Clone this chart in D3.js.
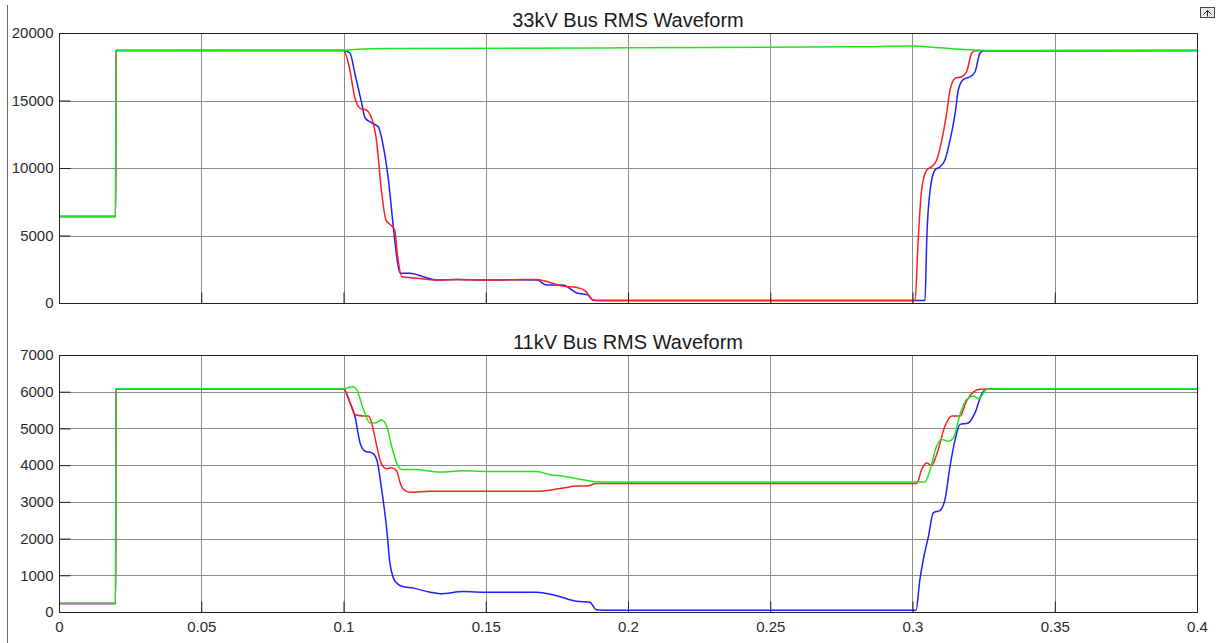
<!DOCTYPE html>
<html>
<head>
<meta charset="utf-8">
<script src="https://cdn.jsdelivr.net/npm/d3@7"></script>
<style>
  body { margin: 0; background: #fff; }
  svg { display: block; font-family: "Liberation Sans", Arial, sans-serif; }
</style>
</head>
<body>
<svg id="chart" width="1222" height="643"></svg>
<script>
// time axis ticks (s)
const xTicks = [0, 0.05, 0.1, 0.15, 0.2, 0.25, 0.3, 0.35, 0.4];
const topYTicks = [0, 5000, 10000, 15000, 20000];
const botYTicks = [0, 1000, 2000, 3000, 4000, 5000, 6000, 7000];

// 33kV bus RMS, [t, V]
const top_blue = [[0,6400],[0.0199,6400],[0.02,18700],[0.1,18700],[0.1023,18500],[0.104,17000],[0.1064,14800],[0.1076,13700],
  [0.1099,13350],[0.1122,13050],[0.114,11600],[0.1158,9100],[0.1175,5650],[0.1187,3430],[0.1199,2200],[0.1234,2200],
  [0.128,1950],[0.1328,1700],[0.14,1750],[0.15,1700],[0.16,1720],[0.168,1700],[0.1714,1330],[0.177,1330],[0.182,740],
  [0.186,600],[0.1877,200],[0.19,180],[0.3044,180],[0.305,4670],[0.3062,8370],[0.3079,9850],[0.3097,10100],[0.3114,10600],
  [0.3132,12070],[0.315,14070],[0.3161,15780],[0.3179,16570],[0.3202,16760],[0.322,17130],[0.3237,18500],[0.3251,18690],[0.4,18700]];
const top_red = [[0,6400],[0.0199,6400],[0.02,18700],[0.1,18700],[0.102,17500],[0.104,15200],[0.106,14400],[0.108,14300],
  [0.1095,13900],[0.1115,12200],[0.1135,8000],[0.115,6100],[0.1165,5800],[0.118,5400],[0.119,3500],[0.1205,1950],
  [0.125,1850],[0.133,1700],[0.14,1750],[0.15,1700],[0.16,1720],[0.168,1750],[0.172,1550],[0.177,1250],[0.182,1150],
  [0.185,900],[0.1875,250],[0.19,180],[0.3009,180],[0.302,4670],[0.3032,8370],[0.305,9850],[0.3067,10100],[0.3085,10600],
  [0.3103,12070],[0.312,14070],[0.3132,15780],[0.315,16640],[0.3173,16760],[0.319,17130],[0.3208,18500],[0.322,18690],[0.4,18700]];
const top_green = [[0,6400],[0.0199,6400],[0.02,18700],[0.1,18730],[0.105,18800],[0.115,18850],[0.2,18900],[0.28,18980],
  [0.3,19040],[0.31,18900],[0.315,18820],[0.322,18740],[0.33,18700],[0.4,18700]];

// 11kV bus RMS, [t, V]
const bot_blue = [[0,230],[0.0199,230],[0.02,6080],[0.1,6080],[0.1023,5700],[0.104,5340],[0.1058,4610],[0.1076,4380],
  [0.1099,4340],[0.1117,4150],[0.1134,3340],[0.1152,2250],[0.1163,1340],[0.1175,930],[0.1187,790],[0.1205,700],
  [0.1246,650],[0.1304,540],[0.1339,500],[0.1421,555],[0.1503,540],[0.1679,540],[0.1749,445],[0.182,290],[0.1866,265],
  [0.1889,60],[0.1937,45],[0.3012,45],[0.3026,880],[0.3038,1430],[0.3056,2060],[0.3073,2700],[0.3097,2770],[0.3114,3060],
  [0.3132,3970],[0.315,4700],[0.3167,5110],[0.3196,5150],[0.322,5430],[0.3243,5930],[0.3261,6064],[0.33,6080],[0.4,6080]];
const bot_red = [[0,230],[0.0199,230],[0.02,6080],[0.1,6080],[0.1023,5700],[0.104,5380],[0.107,5340],[0.1088,5340],
  [0.1099,5150],[0.1117,4520],[0.1134,4020],[0.1152,3900],[0.1169,3930],[0.1187,3840],[0.1199,3520],[0.1211,3340],
  [0.1234,3260],[0.1304,3290],[0.1503,3290],[0.1679,3290],[0.1773,3380],[0.182,3430],[0.1855,3430],[0.1889,3500],
  [0.1937,3500],[0.3015,3500],[0.3032,3880],[0.305,4060],[0.3067,3990],[0.3085,4290],[0.3114,5060],[0.3138,5340],
  [0.3167,5340],[0.319,5750],[0.3214,5990],[0.3237,6064],[0.33,6080],[0.4,6080]];
const bot_green = [[0,230],[0.0199,230],[0.02,6080],[0.1,6080],[0.1034,6136],[0.1046,6064],[0.107,5520],[0.1093,5150],
  [0.1111,5150],[0.1134,5230],[0.1152,5060],[0.1169,4520],[0.1187,4060],[0.1205,3880],[0.1246,3880],[0.1339,3810],
  [0.1421,3850],[0.1503,3830],[0.1679,3830],[0.1726,3740],[0.1773,3700],[0.182,3630],[0.1889,3550],[0.1937,3540],
  [0.3044,3540],[0.3062,3880],[0.3085,4520],[0.3103,4700],[0.3126,4650],[0.3144,4750],[0.3167,5380],[0.319,5790],
  [0.3214,5880],[0.3232,5810],[0.3261,6064],[0.33,6080],[0.4,6080]];

const svg = d3.select('#chart');
svg.append('rect').attr('width', 1222).attr('height', 643).attr('fill', '#fff');

// window edge on the left
svg.append('line').attr('x1', 7.5).attr('x2', 7.5).attr('y1', 5).attr('y2', 643)
  .attr('stroke', '#666').attr('stroke-width', 1);

// little undock icon, top right
const icon = svg.append('g').attr('transform', 'translate(1200,7)');
icon.append('rect').attr('x', 0.5).attr('y', 0.5).attr('width', 14).attr('height', 10)
  .attr('fill', '#e8e8e8').attr('stroke', '#444');
icon.append('path').attr('d', 'M3.5,7.5 L7.5,3.5 L11.5,7.5 M7.5,3.5 V9.5').attr('stroke', '#222').attr('fill', 'none');

const x = d3.scaleLinear().domain([0, 0.4]).range([59, 1197]);

const colors = { blue: '#1f1fff', red: '#ff1f1f', green: '#1ee61e' };

function drawPanel(opts) {
  const y = d3.scaleLinear().domain(opts.domain).range([opts.bottom, opts.top]);
  const g = svg.append('g');

  // grid
  g.selectAll('.vgrid').data(xTicks.slice(1, -1)).enter().append('line')
    .attr('x1', d => Math.round(x(d)) + 0.5).attr('x2', d => Math.round(x(d)) + 0.5)
    .attr('y1', opts.top).attr('y2', opts.bottom)
    .attr('stroke', '#8c8c8c').attr('stroke-width', 1);
  g.selectAll('.hgrid').data(opts.yTicks.slice(1, -1)).enter().append('line')
    .attr('x1', 59).attr('x2', 1197)
    .attr('y1', d => Math.round(y(d)) + 0.5).attr('y2', d => Math.round(y(d)) + 0.5)
    .attr('stroke', '#8c8c8c').attr('stroke-width', 1);

  // traces
  const line = d3.line().x(d => x(d[0])).y(d => y(d[1])).curve(d3.curveMonotoneX);
  opts.series.forEach(s => {
    g.append('path').datum(s.data).attr('d', line)
      .attr('fill', 'none').attr('stroke', s.color).attr('stroke-width', 1.5)
      .attr('stroke-linejoin', 'round');
  });

  // box
  g.append('rect').attr('x', 59.5).attr('y', opts.top + 0.5)
    .attr('width', 1197 - 59).attr('height', opts.bottom - opts.top)
    .attr('fill', 'none').attr('stroke', '#222').attr('stroke-width', 1);

  // axes with inward ticks
  const yAxis = d3.axisLeft(y).tickValues(opts.yTicks).tickSize(-11).tickPadding(6)
    .tickFormat(d3.format('d'));
  const ya = g.append('g').attr('transform', 'translate(59.5,0)').call(yAxis);
  const xAxis = d3.axisBottom(x).tickValues(xTicks).tickSize(-11).tickPadding(9)
    .tickFormat(opts.xLabels ? d => d3.format('')(d) : '');
  const xa = g.append('g').attr('transform', `translate(0,${opts.bottom + 0.5})`).call(xAxis);
  [ya, xa].forEach(a => {
    a.select('.domain').remove();
    a.selectAll('.tick line').attr('stroke', '#222');
    a.selectAll('.tick text').attr('fill', '#2a2a2a').style('font-size', '15px')
      .style('font-family', '"Liberation Sans", Arial, sans-serif');
  });

  g.append('text').attr('x', 628).attr('y', opts.top - 6).attr('text-anchor', 'middle')
    .attr('fill', '#1a1a1a').style('font-size', '20px').text(opts.title);
}

drawPanel({
  title: '33kV Bus RMS Waveform', domain: [0, 20000], top: 33, bottom: 303, yTicks: topYTicks, xLabels: false,
  series: [{ data: top_blue, color: colors.blue }, { data: top_red, color: colors.red }, { data: top_green, color: colors.green }]
});
drawPanel({
  title: '11kV Bus RMS Waveform', domain: [0, 7000], top: 355, bottom: 612, yTicks: botYTicks, xLabels: true,
  series: [{ data: bot_blue, color: colors.blue }, { data: bot_red, color: colors.red }, { data: bot_green, color: colors.green }]
});
</script>
</body>
</html>
